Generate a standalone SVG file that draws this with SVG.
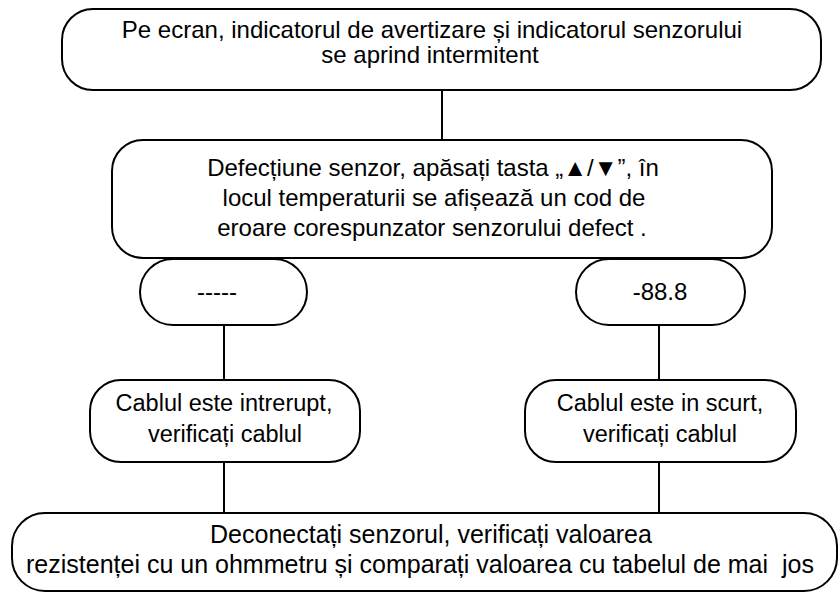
<svg xmlns="http://www.w3.org/2000/svg" width="839" height="592" viewBox="0 0 839 592">
<style>
.box{fill:#fff;stroke:#000;stroke-width:2}
.ln{stroke:#000;stroke-width:2;fill:none}
text{font-family:"Liberation Sans",Arial,sans-serif;font-size:24px;fill:#000;text-anchor:middle;white-space:pre}
.sm{font-size:23.5px}
.lg{font-size:25px}
</style>
<rect width="839" height="592" fill="#fff"/>
<g id="connectors">
<line class="ln" x1="442" y1="90" x2="442" y2="140"/>
<line class="ln" x1="224" y1="325" x2="224" y2="380"/>
<line class="ln" x1="659" y1="325" x2="659" y2="380"/>
<line class="ln" x1="224" y1="462" x2="224" y2="512"/>
<line class="ln" x1="659" y1="462" x2="659" y2="512"/>
</g>
<g id="n1">
<rect class="box" x="62" y="9" width="759" height="81" rx="31"/>
<text x="432" y="38">Pe ecran, indicatorul de avertizare și indicatorul senzorului</text>
<text x="430" y="63">se aprind intermitent</text>
</g>
<g id="n2">
<rect class="box" x="112" y="140" width="660" height="118" rx="31"/>
<text x="433" y="176">Defecțiune senzor, apăsați tasta „▲/▼”, în</text>
<text x="434" y="206">locul temperaturii se afișează un cod de</text>
<text x="432" y="236">eroare corespunzator senzorului defect .</text>
</g>
<g id="n3">
<rect class="box" x="140" y="259" width="167" height="66" rx="33"/>
<text x="217" y="300">-----</text>
</g>
<g id="n4">
<rect class="box" x="576" y="259" width="169" height="66" rx="33"/>
<text x="660" y="300">-88.8</text>
</g>
<g id="n5">
<rect class="box" x="90" y="380" width="270" height="82" rx="31"/>
<text class="sm" x="224" y="411">Cablul este intrerupt,</text>
<text class="sm" x="225" y="442">verificați cablul</text>
</g>
<g id="n6">
<rect class="box" x="525" y="380" width="271" height="82" rx="31"/>
<text class="sm" x="660" y="411">Cablul este in scurt,</text>
<text class="sm" x="660" y="442">verificați cablul</text>
</g>
<g id="n7">
<rect class="box" x="12" y="513" width="825" height="78" rx="33"/>
<text class="lg" x="431" y="543">Deconectați senzorul, verificați valoarea</text>
<text class="lg" x="420" y="573">rezistenței cu un ohmmetru și comparați valoarea cu tabelul de mai  jos</text>
</g>
</svg>
